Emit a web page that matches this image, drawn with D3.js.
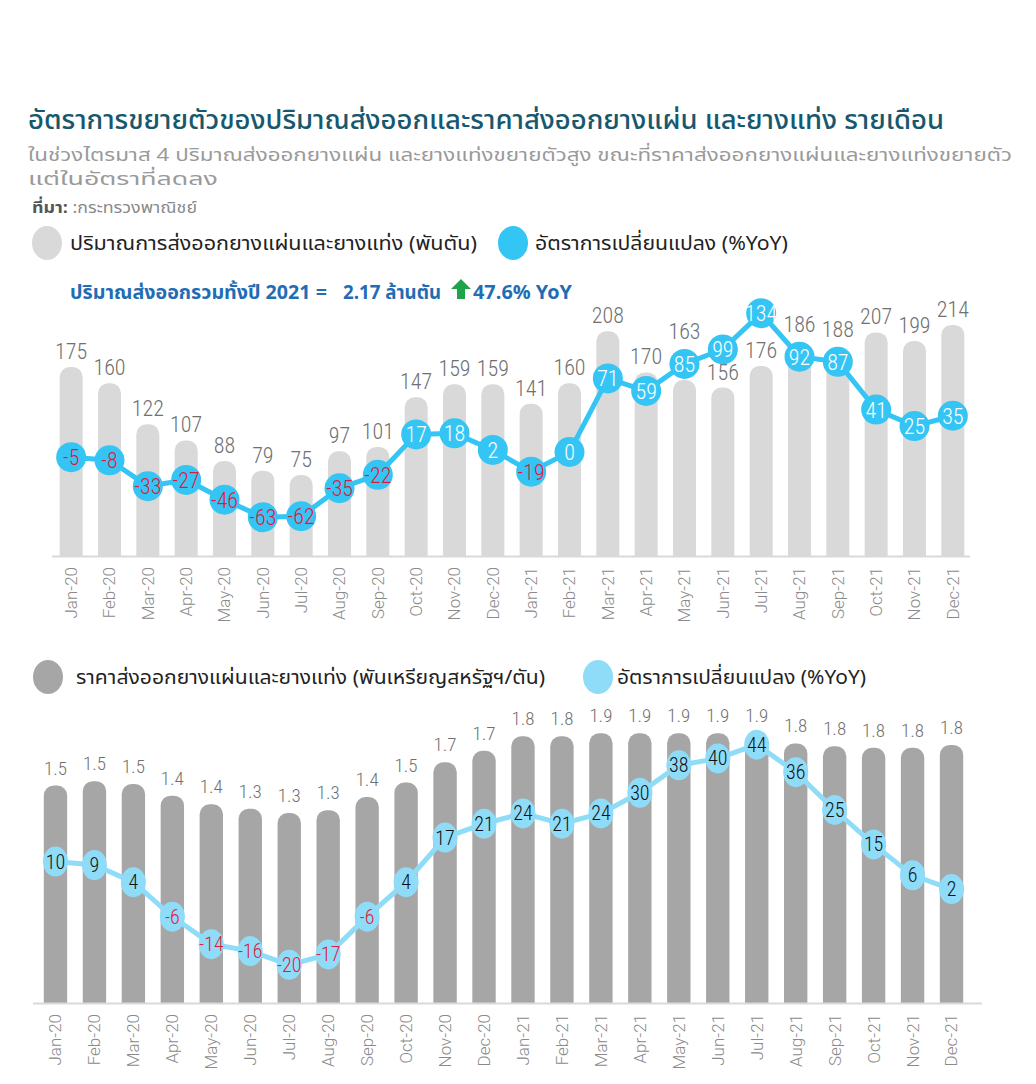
<!DOCTYPE html>
<html>
<head>
<meta charset="utf-8">
<script src="https://cdn.jsdelivr.net/npm/d3@7"></script>
<style>
  body { margin: 0; background: #fff; }
  svg { display: block; }
  text { font-family: "Noto Sans Thai", "Noto Sans", "DejaVu Sans", sans-serif; }
  .num { font-family: "Roboto Condensed", "Roboto", "Noto Sans", sans-serif; font-weight: 300; }
  .tick text { font-family: "Roboto", "Noto Sans", sans-serif; font-weight: 300; }
</style>
</head>
<body>
<svg id="chart" width="1036" height="1084"></svg>
<script>
const months = ["Jan-20","Feb-20","Mar-20","Apr-20","May-20","Jun-20","Jul-20","Aug-20","Sep-20","Oct-20","Nov-20","Dec-20",
                "Jan-21","Feb-21","Mar-21","Apr-21","May-21","Jun-21","Jul-21","Aug-21","Sep-21","Oct-21","Nov-21","Dec-21"];
// export volume (thousand tonnes) and its %YoY
const volume = [175,160,122,107,88,79,75,97,101,147,159,159,141,160,208,170,163,156,176,186,188,207,199,214];
const volumeYoY = [-5,-8,-33,-27,-46,-63,-62,-35,-22,17,18,2,-19,0,71,59,85,99,134,92,87,41,25,35];
// export price (thousand USD / tonne) and its %YoY
const price = [1.50,1.53,1.51,1.43,1.37,1.34,1.31,1.33,1.42,1.52,1.66,1.74,1.84,1.84,1.86,1.86,1.86,1.86,1.86,1.79,1.77,1.76,1.76,1.78];
const priceYoY = [10,9,4,-6,-14,-16,-20,-17,-6,4,17,21,24,21,24,30,38,40,44,36,25,15,6,2];

const svg = d3.select("#chart");

// rounded top bar
function barPath(x, y, w, h, r) {
  r = Math.min(r, w / 2, h);
  return `M${x},${y + h}V${y + r}A${r},${r} 0 0 1 ${x + r},${y}H${x + w - r}A${r},${r} 0 0 1 ${x + w},${y + r}V${y + h}Z`;
}

// ---------- header ----------
svg.append("text").attr("x", 28).attr("y", 129)
  .attr("font-size", 26).attr("fill", "#17586e").attr("font-weight", 500)
  .attr("textLength", 916).attr("lengthAdjust", "spacingAndGlyphs")
  .text("อัตราการขยายตัวของปริมาณส่งออกและราคาส่งออกยางแผ่น และยางแท่ง รายเดือน");

svg.append("text").attr("x", 28).attr("y", 161)
  .attr("font-size", 18).attr("fill", "#9a9a9a")
  .attr("textLength", 984).attr("lengthAdjust", "spacingAndGlyphs")
  .text("ในช่วงไตรมาส 4 ปริมาณส่งออกยางแผ่น และยางแท่งขยายตัวสูง ขณะที่ราคาส่งออกยางแผ่นและยางแท่งขยายตัว");
svg.append("text").attr("x", 28).attr("y", 185)
  .attr("font-size", 18).attr("fill", "#9a9a9a")
  .attr("textLength", 190).attr("lengthAdjust", "spacingAndGlyphs")
  .text("แต่ในอัตราที่ลดลง");

const src = svg.append("text").attr("x", 32).attr("y", 213).attr("font-size", 16).attr("fill", "#8a8a8a")
  .attr("textLength", 165).attr("lengthAdjust", "spacingAndGlyphs");
src.append("tspan").attr("font-weight", 700).attr("fill", "#555").text("ที่มา: ");
src.append("tspan").text(":กระทรวงพาณิชย์");

// legend helper
function legendItem(cx, cy, color, label, tx, len) {
  svg.append("ellipse").attr("cx", cx).attr("cy", cy).attr("rx", 15).attr("ry", 17).attr("fill", color);
  svg.append("text").attr("x", tx).attr("y", cy + 7).attr("font-size", 20).attr("fill", "#222")
    .attr("textLength", len).attr("lengthAdjust", "spacingAndGlyphs").text(label);
}
legendItem(47, 243, "#d9d9d9", "ปริมาณการส่งออกยางแผ่นและยางแท่ง (พันตัน)", 70, 407);
legendItem(513, 243, "#33c6f4", "อัตราการเปลี่ยนแปลง (%YoY)", 535, 253);

// summary line
const sum = svg.append("g").attr("font-weight", 700).attr("fill", "#1f6db5").attr("font-size", 19);
sum.append("text").attr("x", 70).attr("y", 299).attr("textLength", 257).attr("lengthAdjust", "spacingAndGlyphs")
  .text("ปริมาณส่งออกรวมทั้งปี 2021 =");
sum.append("text").attr("x", 343).attr("y", 299).attr("textLength", 98).attr("lengthAdjust", "spacingAndGlyphs")
  .text("2.17 ล้านตัน");
sum.append("path").attr("fill", "#1fa34a")
  .attr("d", "M461,279 L471,289 L465,289 L465,299 L457,299 L457,289 L451,289 Z");
sum.append("text").attr("x", 473).attr("y", 299).attr("textLength", 99).attr("lengthAdjust", "spacingAndGlyphs")
  .text("47.6% YoY");

// ---------- chart 1: volume ----------
const base1 = 556;
const x1 = d3.scaleBand().domain(months).range([52, 972]).paddingInner(0.4).paddingOuter(0.2);
const yVol = d3.scaleLinear().domain([0, 250]).range([base1, base1 - 270]);
const yPct1 = d3.scaleLinear().domain([-100, 150]).range([555.6, 296.6]);
const r1 = 15;

const g1 = svg.append("g");
g1.selectAll("path.bar").data(volume).join("path").attr("class", "bar")
  .attr("fill", "#d9d9d9")
  .attr("d", (d, i) => barPath(x1(months[i]), yVol(d), x1.bandwidth(), base1 - yVol(d), 10));

g1.append("line").attr("x1", 52).attr("x2", 970).attr("y1", base1 + 0.5).attr("y2", base1 + 0.5)
  .attr("stroke", "#d9d9d9").attr("stroke-width", 2);

g1.selectAll("text.vlab").data(volume).join("text").attr("class", "vlab num")
  .attr("x", (d, i) => x1(months[i]) + x1.bandwidth() / 2)
  .attr("y", (d, i) => {
    let y = yVol(d) - 8;
    const cy = yPct1(volumeYoY[i]);
    if (cy - r1 < y + 2 && cy + r1 > y - 13) y = cy - r1 - 10;
    return y;
  })
  .attr("text-anchor", "middle").attr("font-size", 22).attr("fill", "#707070")
  .text(d => d);

const line1 = d3.line().x((d, i) => x1(months[i]) + x1.bandwidth() / 2).y(d => yPct1(d));
g1.append("path").datum(volumeYoY).attr("d", line1).attr("fill", "none")
  .attr("stroke", "#35c5f4").attr("stroke-width", 5);
g1.selectAll("circle.pt").data(volumeYoY).join("circle").attr("class", "pt")
  .attr("cx", (d, i) => x1(months[i]) + x1.bandwidth() / 2).attr("cy", d => yPct1(d))
  .attr("r", r1).attr("fill", "#35c5f4");
g1.selectAll("text.plab").data(volumeYoY).join("text").attr("class", "plab num")
  .attr("x", (d, i) => x1(months[i]) + x1.bandwidth() / 2).attr("y", d => yPct1(d) + 8)
  .attr("text-anchor", "middle").attr("font-size", 22)
  .attr("fill", d => d < 0 ? "#e0193b" : "#fff")
  .text(d => d);

const ax1 = g1.append("g").attr("transform", `translate(0,${base1})`)
  .call(d3.axisBottom(x1).tickSize(0));
ax1.select(".domain").remove();
ax1.selectAll("text").attr("transform", "rotate(-90)")
  .attr("x", -11).attr("y", 0).attr("dy", "0.35em").attr("text-anchor", "end")
  .attr("font-size", 17).attr("fill", "#8a8a8a");

// ---------- chart 2: price ----------
legendItem(48, 677, "#a6a6a6", "ราคาส่งออกยางแผ่นและยางแท่ง (พันเหรียญสหรัฐฯ/ตัน)", 76, 469);
legendItem(598, 677, "#8fdcf9", "อัตราการเปลี่ยนแปลง (%YoY)", 617, 249);

const base2 = 1003;
const x2 = d3.scaleBand().domain(months).range([36, 971]).paddingInner(0.4).paddingOuter(0.2);
const yPrice = d3.scaleLinear().domain([0, 2]).range([base2, base2 - 290]);
const yPct2 = d3.scaleLinear().domain([-30, 50]).range([999.2, 724.0]);

const g2 = svg.append("g");
g2.selectAll("path.bar").data(price).join("path").attr("class", "bar")
  .attr("fill", "#a6a6a6")
  .attr("d", (d, i) => barPath(x2(months[i]), yPrice(d), x2.bandwidth(), base2 - yPrice(d), 10));

g2.append("line").attr("x1", 33).attr("x2", 982).attr("y1", base2 + 0.5).attr("y2", base2 + 0.5)
  .attr("stroke", "#d9d9d9").attr("stroke-width", 2);

g2.selectAll("text.vlab").data(price).join("text").attr("class", "vlab num")
  .attr("x", (d, i) => x2(months[i]) + x2.bandwidth() / 2).attr("y", d => yPrice(d) - 11)
  .attr("text-anchor", "middle").attr("font-size", 19).attr("fill", "#707070")
  .text(d => d.toFixed(1));

const line2 = d3.line().x((d, i) => x2(months[i]) + x2.bandwidth() / 2).y(d => yPct2(d));
g2.append("path").datum(priceYoY).attr("d", line2).attr("fill", "none")
  .attr("stroke", "#8fdcf9").attr("stroke-width", 5);
g2.selectAll("ellipse.pt").data(priceYoY).join("ellipse").attr("class", "pt")
  .attr("cx", (d, i) => x2(months[i]) + x2.bandwidth() / 2).attr("cy", d => yPct2(d))
  .attr("rx", 12.5).attr("ry", 15).attr("fill", "#8fdcf9");
g2.selectAll("text.plab").data(priceYoY).join("text").attr("class", "plab num")
  .attr("x", (d, i) => x2(months[i]) + x2.bandwidth() / 2).attr("y", d => yPct2(d) + 7)
  .attr("text-anchor", "middle").attr("font-size", 20).attr("font-weight", 400)
  .attr("fill", d => d < 0 ? "#e0193b" : "#111")
  .text(d => d);

const ax2 = g2.append("g").attr("transform", `translate(0,${base2})`)
  .call(d3.axisBottom(x2).tickSize(0));
ax2.select(".domain").remove();
ax2.selectAll("text").attr("transform", "rotate(-90)")
  .attr("x", -11).attr("y", 0).attr("dy", "0.35em").attr("text-anchor", "end")
  .attr("font-size", 17).attr("fill", "#8a8a8a");
</script>
</body>
</html>
